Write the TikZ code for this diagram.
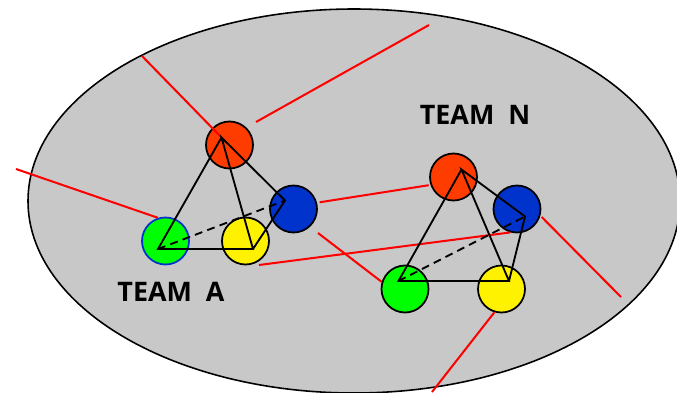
\documentclass[tikz,border=0pt]{standalone}
\usepackage{fontspec}
\setmainfont{Open Sans}
\definecolor{cloudgray}{RGB}{200,200,200}
\definecolor{playerred}{RGB}{255,60,0}
\definecolor{playerblue}{RGB}{0,51,204}
\tikzset{
	player/.style={circle,draw=black,line width=1pt,minimum size=0.94cm,inner sep=0pt},
	link/.style={red,line width=1.15pt},
	edge/.style={black,line width=1.05pt},
	team/.style={font=\bfseries\fontsize{15.3pt}{17pt}\selectfont,inner sep=0pt}
}

\begin{document}
\begin{tikzpicture}
	\clip (0,0) rectangle (13.54,7.84);
	\draw[fill=cloudgray,line width=0.9pt] (7.08,3.82) ellipse (6.52 and 3.84);
	% team A
	\node[player,fill=playerred] (redA) at (4.59,4.94) {};
	\node[player,fill=playerblue] (blueA) at (5.87,3.66) {};
	\node[player,fill=yellow] (yellowA) at (4.91,3.02) {};
	\node[player,fill=green,draw=playerblue] (greenA) at (3.31,3.02) {};
	\node[team] (labelA) at (3.42,2.0) {TEAM\ \ A};
	% team N
	\node[player,fill=playerred] (redN) at (9.07,4.30) {};
	\node[player,fill=playerblue] (blueN) at (10.34,3.66) {};
	\node[player,fill=yellow] (yellowN) at (10.03,2.06) {};
	\node[player,fill=green] (greenN) at (8.10,2.06) {};
	\node[team] (labelN) at (9.50,5.54) {TEAM\ \ N};
	% corners
	\coordinate (apexA) at (4.43,5.09);
	\coordinate (leftA) at (3.16,2.86);
	\coordinate (rightA) at (5.06,2.86);
	\coordinate (backA) at (5.70,3.83);
	\coordinate (apexN) at (9.23,4.45);
	\coordinate (leftN) at (7.97,2.22);
	\coordinate (rightN) at (10.18,2.22);
	\coordinate (backN) at (10.50,3.51);
	% free ends
	\coordinate (endTopA) at (2.84,6.72);
	\coordinate (endNearA) at (5.12,5.40);
	\coordinate (endFarA) at (8.58,7.34);
	\coordinate (endLeftA) at (0.32,4.46);
	\coordinate (endBlueA) at (6.36,3.18);
	\coordinate (endYellowA) at (5.18,2.54);
	\coordinate (endRightN) at (12.42,1.90);
	\coordinate (endBottomN) at (8.64,0);
	% red links
	\draw[link] (endTopA) -- (apexA);
	\draw[link] (endNearA) -- (endFarA);
	\draw[link] (endLeftA) -- (greenA.108);
	\draw[link,shorten <=1.5pt,shorten >=1pt] (blueA.15) -- (redN.199);
	\draw[link] (endBlueA) -- (greenN.163);
	\draw[link] (endYellowA) -- (blueN.254);
	\draw[link,shorten <=1pt] (blueN.-16) -- (endRightN);
	\draw[link] (yellowN.-107) -- (endBottomN);
	% black edges
	\draw[edge] (apexA) -- (leftA) -- (rightA) -- (apexA) -- (backA) -- (rightA);
	\draw[edge,dash pattern=on 4.5pt off 3pt] (leftA) -- (backA);
	\draw[edge] (apexN) -- (leftN) -- (rightN) -- (apexN) -- (backN) -- (rightN);
	\draw[edge,dash pattern=on 4.5pt off 3pt] (leftN) -- (backN);
\end{tikzpicture}
\end{document}
